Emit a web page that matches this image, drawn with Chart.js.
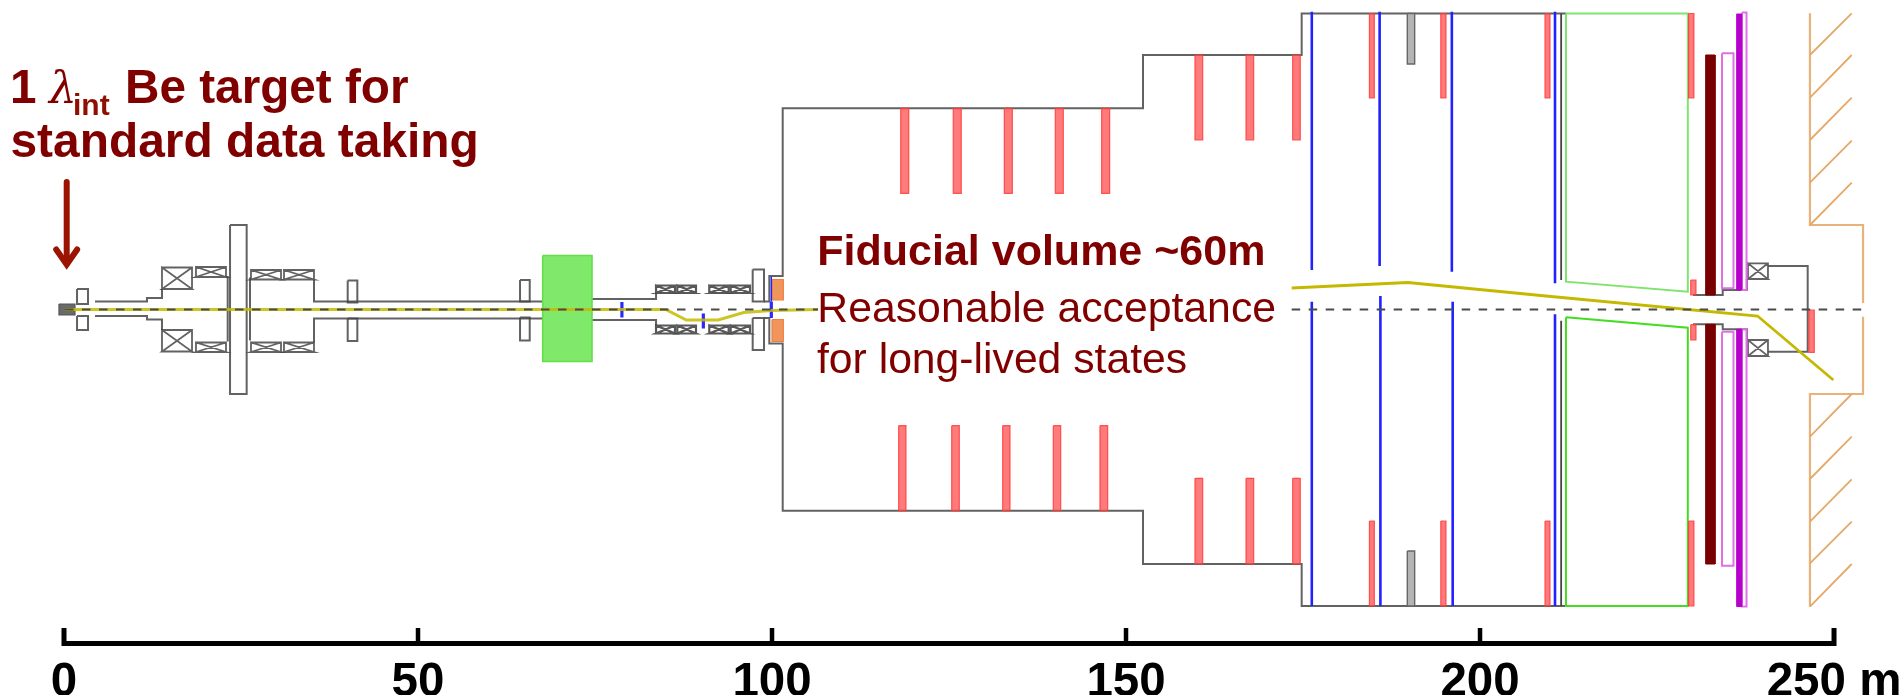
<!DOCTYPE html>
<html>
<head>
<meta charset="utf-8">
<style>html,body{margin:0;padding:0;background:#fff}canvas{display:block}</style>
<script src="https://cdn.jsdelivr.net/npm/chart.js@4/dist/chart.umd.min.js"></script>
</head>
<body>
<canvas id="c" width="1901" height="695"></canvas>
<script>
// x: metres along the beam. y: transverse offset from the beam axis (exaggerated schematic units).
// rectangles: [x0, x1, yA, yB]; polylines: [[x,y],...]
const tickValues = [0, 50, 100, 150, 200, 250];
const scaleBarY = -334, scaleTickTop = -318.5;

const target = [[-0.71, 1.55, 5.5, -5.5]];
const hollowBlocks = [
  [1.84, 3.39, 20.5, 5.5], [1.84, 3.39, -6.5, -20.5],
  [23.45, 25.8, 84.5, -84.5],
  [40.07, 41.43, 29, 7], [40.07, 41.43, -9, -31.5],
  [64.41, 65.78, 29.5, 8], [64.41, 65.78, -8, -31],
  [97.27, 98.87, 40, 8], [97.27, 98.87, -8.5, -40.5]
];
const magnetsLarge = [
  [13.84, 18.08, 42, 20.5], [13.84, 18.08, -20.5, -42],
  [18.64, 22.88, 42.5, 32.5], [18.64, 22.88, -33, -42.5],
  [26.41, 30.65, 39.5, 30], [26.41, 30.65, -33, -42.5],
  [31.07, 35.31, 39.5, 30], [31.07, 35.31, -33, -42.5],
  [237.85, 240.67, 46.2, 30.5], [237.85, 240.67, -30.5, -46.5]
];
const magnetsSmall = [
  [83.62, 86.3, 24, 16.5], [86.62, 89.26, 24, 16.5], [91.14, 93.88, 24, 16.5], [94.16, 96.89, 24, 16.5],
  [83.62, 86.3, -16, -24], [86.62, 89.26, -16, -24], [91.14, 93.88, -16, -24], [94.16, 96.89, -16, -24]
];
const beamPipes = [
  [[4.38, 8], [11.72, 8], [11.72, 11.5], [13.84, 11.5], [13.84, 20.5]],
  [[4.38, -6.5], [11.72, -6.5], [11.72, -10], [13.84, -10], [13.84, -20.5]],
  [[22.88, 32.5], [23.12, 32.5], [23.12, -32]],
  [[26.41, 31], [26.27, 31], [26.27, -31]],
  [[35.31, 30], [35.31, 8], [67.61, 8]],
  [[35.31, -33], [35.31, -9], [67.61, -9]],
  [[74.58, 10.5], [83.62, 10.5], [83.62, 16.5]],
  [[74.58, -10.5], [83.62, -10.5], [83.62, -16]],
  [[230.08, 14.5], [234.28, 14.5], [234.28, 19.5], [237.7, 19.5], [237.7, 30.5]],
  [[230.08, -14.8], [234.28, -14.8], [234.28, -19.8], [237.7, -19.8], [237.7, -30.5]],
  [[240.7, 43.5], [246.28, 43.5], [246.28, -42.2], [240.7, -42.2]]
];
const vesselOutline = [
  [[98.87, 8], [99.62, 8], [99.62, 33.5], [101.51, 33.5], [101.51, 201.2], [152.4, 201.2], [152.4, 254.5], [174.81, 254.5], [174.81, 296], [212.14, 296]],
  [[98.87, -8.5], [99.62, -8.5], [99.62, -34], [101.51, -34], [101.51, -201.2], [152.4, -201.2], [152.4, -254.5], [174.81, -254.5], [174.81, -296.5], [212.14, -296.5]]
];
const goliathMagnet = [[67.61, 74.58, 54, -52]];
const collimators = [[100, 101.6, 30, 9.5], [100, 101.6, -10, -32]];
const vetoCounters = [
  [118.18, 119.31, 201.2, 116.2], [125.6, 126.73, 201.2, 116.2], [132.81, 133.94, 201.2, 116.2], [140.01, 141.14, 201.2, 116.2], [146.56, 147.69, 201.2, 116.2],
  [117.89, 118.92, -116.2, -201.2], [125.38, 126.45, -116.2, -201.2], [132.58, 133.61, -116.2, -201.2], [139.73, 140.77, -116.2, -201.2], [146.32, 147.41, -116.2, -201.2],
  [159.74, 160.83, 254.5, 169.5], [166.95, 168.03, 254.5, 169.5], [173.54, 174.61, 254.5, 169.5],
  [159.74, 160.83, -168.8, -254.5], [166.95, 168.03, -168.8, -254.5], [173.54, 174.61, -168.8, -254.5],
  [184.38, 185.07, 296, 211.5], [194.46, 195.19, 296, 211.5], [209.18, 209.88, 296, 211.5], [229.46, 230.21, 296, 211.5],
  [184.38, 185.07, -211.5, -296.5], [194.46, 195.19, -211.5, -296.5], [209.18, 209.88, -211.5, -296.5], [229.46, 230.21, -211.5, -296.5],
  [229.76, 230.5, 29.5, 14.5], [229.76, 230.5, -15.2, -30.5],
  [246.46, 247.21, -0.5, -42.8]
];
const trackerPlanes = [
  [[176.24, 297.8], [176.24, 39.5]], [[185.82, 297.8], [185.82, 43.5]], [[196.02, 297.8], [196.02, 37.8]], [[210.59, 297.8], [210.59, 26.2]],
  [[176.24, 7.8], [176.24, -296.5]], [[185.93, 13.5], [185.93, -296.5]], [[196.14, 7.8], [196.14, -296.5]], [[210.59, -4.8], [210.59, -296.5]],
  [[99.9, 33], [99.9, 8]]
];
const beamPlanes = [
  [[78.8, 7.5], [78.8, -8]], [[90.3, -4], [90.3, -19]], [[99.9, 8], [99.9, -8.5]]
];
const blackPlanes = [
  [[211.46, 296], [211.46, 29.5]], [[211.46, -11.2], [211.46, -296.5]]
];
const greyBlocks = [[189.73, 190.77, 296, 245.5], [189.73, 190.77, -241.5, -296.5]];
const spectrometerMagnetTop = [[212.14, 296], [229.35, 296], [229.35, 17.8], [212.14, 27.8], [212.14, 296]];
const spectrometerMagnetBottom = [[212.14, -7.8], [229.35, -18.2], [229.35, -296.5], [212.14, -296.5], [212.14, -7.8]];
const calorimeter = [[231.87, 233.19, 254.5, 14.5], [231.87, 233.19, -14.8, -254.5]];
const pinkBoxes = [
  [234.18, 235.8, 256.2, 21.2], [234.18, 235.8, -22.2, -256.2],
  [237, 237.64, 297, 19.5], [237, 237.64, -19.8, -297]
];
const magentaBlocks = [[236.25, 236.95, 295.5, 19.5], [236.25, 236.95, -19.8, -297]];
const wallOutline = [
  [[246.6, 296.2], [246.6, 84.5], [254.1, 84.5], [254.1, 6.5]],
  [[254.1, -7.2], [254.1, -84.5], [246.6, -84.5], [246.6, -297.2]]
];
const wallHatches = [
  [[246.6, 254.5], [252.5, 296.2]], [[246.6, 211.8], [252.5, 254.5]], [[246.6, 169.5], [252.5, 211.8]], [[246.6, 126.8], [252.5, 168.8]], [[246.6, 84.5], [252.5, 126.8]],
  [[246.6, -127.2], [252.5, -84.5]], [[246.6, -169.5], [252.5, -127.2]], [[246.6, -212.2], [252.5, -169.8]], [[246.6, -253.8], [252.5, -212.2]], [[246.6, -297.2], [252.5, -254.5]]
];
const beamTrackUpstream = [[0.14, 0], [85, 0], [87.9, -10.5], [92.4, -10.5], [96, -3], [99.9, -1], [106.5, 0]];
const beamTrackDownstream = [[173.4, 21.5], [189.8, 27], [209.3, 13.5], [239.2, -6.5], [249.9, -70.5]];
const beamAxis = [
  [[0.14, 0], [106.5, 0]],
  [[173.4, 0], [254.8, 0]]
];
const arrowShaft = [[0.38, 127.5], [0.38, 46]];
const arrowHead = [[-1.1, 60], [0.38, 45], [1.86, 60]];

const darkRed = '#800000';
const sans = '"Liberation Sans", Arial, sans-serif';
const annotations = [
  { t: '1', x: -7.63, y: 206.5, font: 'bold 47.7px ' + sans },
  { t: '\u03BB', x: -2.12, y: 206.5, font: 'italic 44px "DejaVu Serif", serif' },
  { t: 'int', x: 1.27, y: 194.5, font: 'bold 30px ' + sans, color: '#8f1000' },
  { t: 'Be target for', x: 8.62, y: 206.5, font: 'bold 47.7px ' + sans },
  { t: 'standard data taking', x: -7.56, y: 152.5, font: 'bold 47.9px ' + sans },
  { t: 'Fiducial volume ~60m', x: 106.4, y: 44.5, font: 'bold 43px ' + sans },
  { t: 'Reasonable acceptance', x: 106.4, y: -12.2, font: '42.75px ' + sans },
  { t: 'for long-lived states', x: 106.35, y: -63.8, font: '42.7px ' + sans }
];

function pts(list) { return list.map(p => ({ x: p[0], y: p[1] })); }
function rectPath(r) { return [[r[0], r[2]], [r[1], r[2]], [r[1], r[3]], [r[0], r[3]], [r[0], r[2]]]; }
function crossPath(r) { return rectPath(r).concat([[r[1], r[3]], [r[0], r[3]], [r[1], r[2]]]); }
function line(path, color, width, extra) {
  return Object.assign({ data: pts(path), borderColor: color, borderWidth: width, showLine: true, pointRadius: 0, tension: 0, fill: false, clip: false, borderJoinStyle: 'miter' }, extra || {});
}
function block(r, fillColor, edge, width) {
  return line(rectPath(r), edge, width, { fill: 'shape', backgroundColor: fillColor });
}

const stack = []; // back to front
const grey = 'rgba(70,70,70,0.85)';
vesselOutline.forEach(p => stack.push(line(p, grey, 2)));
beamPipes.forEach(p => stack.push(line(p, grey, 2)));
hollowBlocks.forEach(r => stack.push(line(rectPath(r), grey, 2)));
magnetsLarge.forEach(r => stack.push(line(crossPath(r), grey, 1.8)));
magnetsSmall.forEach(r => stack.push(line(crossPath(r), 'rgba(70,70,70,0.9)', 2.2)));
target.forEach(r => stack.push(block(r, '#6a6a6a', '#555555', 1.2)));
goliathMagnet.forEach(r => stack.push(block(r, '#80e86a', '#5fdf48', 1.5)));
collimators.forEach(r => stack.push(block(r, '#f0955c', '#f08040', 1.2)));
greyBlocks.forEach(r => stack.push(block(r, '#b4b4b4', '#666666', 1.4)));
stack.push(line(spectrometerMagnetTop, '#7fe46e', 2));
stack.push(line(spectrometerMagnetBottom, '#44dd22', 2));
blackPlanes.forEach(p => stack.push(line(p, '#444444', 1.8)));
trackerPlanes.forEach((p, i) => stack.push(line(p, '#2222ff', i === 8 ? 1.5 : 2.6)));
beamPlanes.forEach(p => stack.push(line(p, '#2a2aff', 3.2)));
vetoCounters.forEach(r => stack.push(block(r, 'rgba(255,70,70,0.72)', 'rgba(255,60,60,0.85)', 1.2)));
calorimeter.forEach(r => stack.push(block(r, '#780000', '#780000', 1)));
pinkBoxes.forEach(r => stack.push(line(rectPath(r), '#e070e8', 2)));
magentaBlocks.forEach(r => stack.push(block(r, '#b800cc', '#b800cc', 1)));
wallOutline.forEach(p => stack.push(line(p, '#e8b27a', 2.2)));
wallHatches.forEach(p => stack.push(line(p, '#e5a868', 1.8)));
stack.push(line(beamTrackUpstream, 'rgba(196,186,0,0.85)', 3));
stack.push(line(beamTrackDownstream, '#c4b800', 2.8));
beamAxis.forEach(p => stack.push(line(p, '#4a4a4a', 1.8, { borderDash: [8.5, 8.5] })));
stack.push(line(arrowShaft, '#9b1400', 6, { borderCapStyle: 'round' }));
stack.push(line(arrowHead, '#9b1400', 6, { borderCapStyle: 'round', borderJoinStyle: 'miter' }));
stack.push(line([[tickValues[0], scaleTickTop], [tickValues[0], scaleBarY], [tickValues[tickValues.length - 1], scaleBarY], [tickValues[tickValues.length - 1], scaleTickTop]], '#000000', 5));
tickValues.slice(1, -1).forEach(v => stack.push(line([[v, scaleBarY], [v, scaleTickTop]], '#000000', 4.5)));

const textPlugin = {
  id: 'schematicText',
  afterDatasetsDraw(chart) {
    const ctx = chart.ctx, sx = chart.scales.x, sy = chart.scales.y;
    ctx.save();
    ctx.textBaseline = 'alphabetic';
    ctx.textAlign = 'left';
    annotations.forEach(a => {
      ctx.font = a.font;
      ctx.fillStyle = a.color || darkRed;
      ctx.fillText(a.t, sx.getPixelForValue(a.x), sy.getPixelForValue(a.y));
    });
    ctx.restore();
  }
};

new Chart(document.getElementById('c'), {
  type: 'scatter',
  data: { datasets: stack.reverse() },
  plugins: [textPlugin],
  options: {
    responsive: false,
    animation: false,
    events: [],
    layout: { padding: 0 },
    plugins: { legend: { display: false }, tooltip: { enabled: false }, title: { display: false } },
    scales: {
      x: {
        type: 'linear',
        min: -9.04,
        max: 259.46,
        grid: { display: false },
        border: { display: false },
        afterBuildTicks(axis) { axis.ticks = tickValues.map(v => ({ value: v })); },
        afterFit(axis) { axis.height = 47; axis.paddingLeft = 0; axis.paddingRight = 0; },
        ticks: {
          autoSkip: false,
          maxRotation: 0,
          minRotation: 0,
          padding: 3,
          color: '#000000',
          font: { family: 'Liberation Sans', size: 47.5, weight: 'bold', lineHeight: 1 },
          callback: v => (v === 250 ? '250 m' : String(v))
        }
      },
      y: { type: 'linear', display: false, min: -338.5, max: 309.5 }
    }
  }
});
</script>
</body>
</html>
